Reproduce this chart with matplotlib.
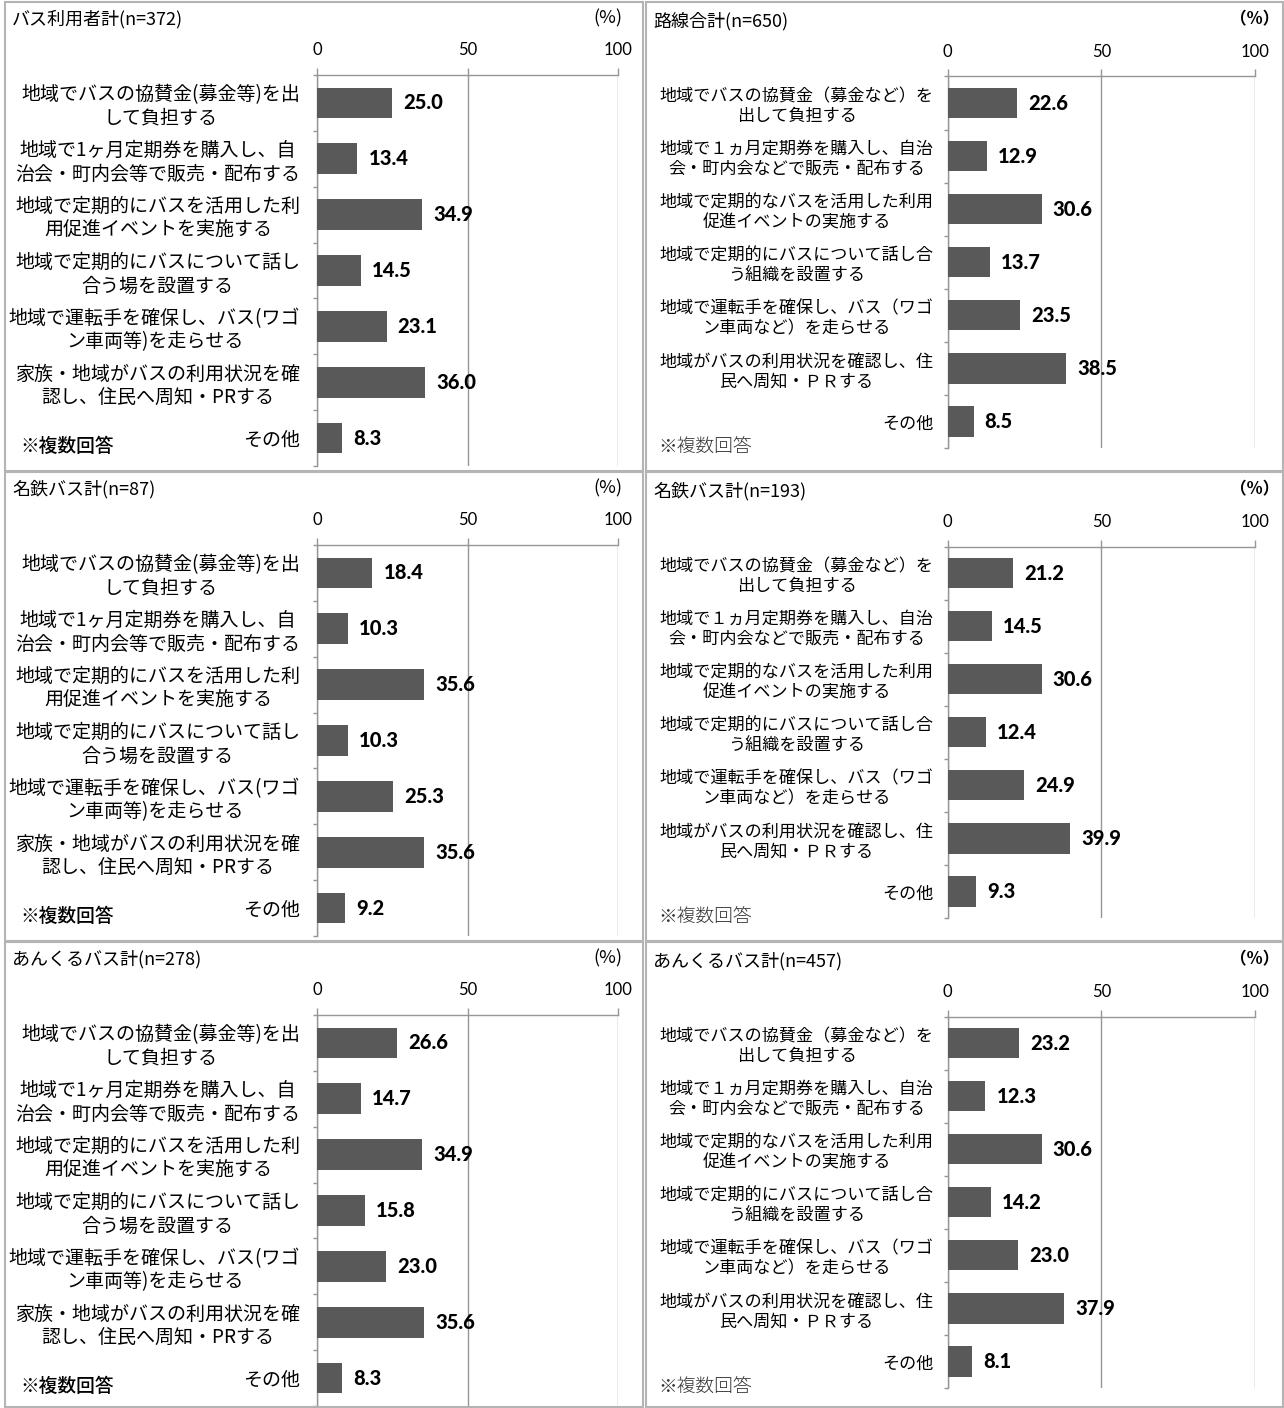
import numpy as np
import matplotlib
matplotlib.use('Agg')
import matplotlib.pyplot as plt
from matplotlib.patches import Rectangle

plt.rcParams['font.family'] = ['Noto Sans CJK JP', 'DejaVu Sans']

W, H = 1284, 1408

# category labels
labels_left = [
    '地域でバスの協賛金(募金等)を出\nして負担する',
    '地域で1ヶ月定期券を購入し、自\n治会・町内会等で販売・配布する',
    '地域で定期的にバスを活用した利\n用促進イベントを実施する',
    '地域で定期的にバスについて話し\n合う場を設置する',
    '地域で運転手を確保し、バス(ワゴ\nン車両等)を走らせる',
    '家族・地域がバスの利用状況を確\n認し、住民へ周知・PRする',
    'その他',
]
labels_right = [
    '地域でバスの協賛金（募金など）を\n出して負担する',
    '地域で１ヵ月定期券を購入し、自治\n会・町内会などで販売・配布する',
    '地域で定期的なバスを活用した利用\n促進イベントの実施する',
    '地域で定期的にバスについて話し合\nう組織を設置する',
    '地域で運転手を確保し、バス（ワゴ\nン車両など）を走らせる',
    '地域がバスの利用状況を確認し、住\n民へ周知・ＰＲする',
    'その他',
]

titles_left = ['バス利用者計(n=372)', '名鉄バス計(n=87)', 'あんくるバス計(n=278)']
titles_right = ['路線合計(n=650)', '名鉄バス計(n=193)', 'あんくるバス計(n=457)']

vals_left = [
    [25.0, 13.4, 34.9, 14.5, 23.1, 36.0, 8.3],
    [18.4, 10.3, 35.6, 10.3, 25.3, 35.6, 9.2],
    [26.6, 14.7, 34.9, 15.8, 23.0, 35.6, 8.3],
]
vals_right = [
    [22.6, 12.9, 30.6, 13.7, 23.5, 38.5, 8.5],
    [21.2, 14.5, 30.6, 12.4, 24.9, 39.9, 9.3],
    [23.2, 12.3, 30.6, 14.2, 23.0, 37.9, 8.1],
]

xticks = [0, 50, 100]

BAR = '#595959'
GRID = '#969696'
BORDER = '#b4b4b4'

fig = plt.figure(figsize=(W / 100, H / 100), dpi=100)


def px_rect(x0, y0, x1, y1):
    return [x0 / W, 1 - y1 / H, (x1 - x0) / W, (y1 - y0) / H]


def draw_panel(rect, vals, labels, bar_h, lab_size, lab_pad):
    ax = fig.add_axes(rect)
    y = np.arange(len(vals))
    ax.barh(y, vals, height=bar_h, color=BAR, zorder=3)
    for i, v in enumerate(vals):
        ax.annotate(f'{v:.1f}', (v, i), xytext=(8, 0), textcoords='offset points',
                    va='center', ha='left', fontsize=14.5, fontweight=900,
                    family='Lato', color='black', zorder=4)
    ax.set_xlim(0, 100)
    ax.set_ylim(len(vals) - 0.5, -0.5)
    ax.xaxis.tick_top()
    ax.set_xticks(xticks)
    ax.set_xticklabels([str(t) for t in xticks], family='Lato', fontsize=12)
    ax.tick_params(axis='x', length=5, color=GRID, pad=7, width=1)
    ax.set_yticks(y)
    ax.set_yticklabels(labels, fontsize=lab_size, linespacing=1.15)
    for t in ax.get_yticklabels():
        t.set_multialignment('center')
    ax.tick_params(axis='y', which='major', length=0, pad=lab_pad)
    ax.set_yticks(np.arange(-0.5, len(vals)), minor=True)
    ax.tick_params(axis='y', which='minor', length=3, color=GRID, width=1)
    ax.grid(axis='x', color=GRID, linewidth=1, zorder=0)
    for s in ['right', 'bottom']:
        ax.spines[s].set_visible(False)
    for s in ['top', 'left']:
        ax.spines[s].set_color(GRID)
        ax.spines[s].set_linewidth(1)
    return ax


for r in range(3):
    off = 470 * r
    # panel borders
    for x0, x1 in [(5, 643), (646, 1283)]:
        y0 = 2 + off
        y1 = min(471 + off, 1407)
        fig.patches.append(Rectangle((x0 / W, 1 - y1 / H), (x1 - x0) / W, (y1 - y0) / H,
                                     transform=fig.transFigure, fill=False,
                                     edgecolor=BORDER, linewidth=1.5))

    draw_panel(px_rect(317, 75 + off, 618, 466 + off), vals_left[r], labels_left,
               0.55, 13.7, 12)
    draw_panel(px_rect(947.5, 76.5 + off, 1255, 448 + off), vals_right[r], labels_right,
               0.57, 12.3, 10)

    fig.text(12 / W, 1 - (19 + off) / H, titles_left[r], fontsize=13, va='center',
             ha='left', color='black')
    fig.text(622 / W, 1 - (18 + off) / H, '(%)', fontsize=13, va='center', ha='right')
    fig.text(653 / W, 1 - (21 + off) / H, titles_right[r], fontsize=13, va='center',
             ha='left', color='black')
    fig.text(1279 / W, 1 - (19 + off) / H, '（%）', fontsize=12, va='center', ha='right',
             fontweight='bold')
    fig.text(20 / W, 1 - (446 + off) / H, '※複数回答', fontsize=13.5, va='center',
             ha='left', fontweight='medium')
    fig.text(658 / W, 1 - (448 + off) / H, '※複数回答', fontsize=13.5, va='center',
             ha='left', color='#333333', fontweight='light')

fig.savefig('out.png', dpi=100)
